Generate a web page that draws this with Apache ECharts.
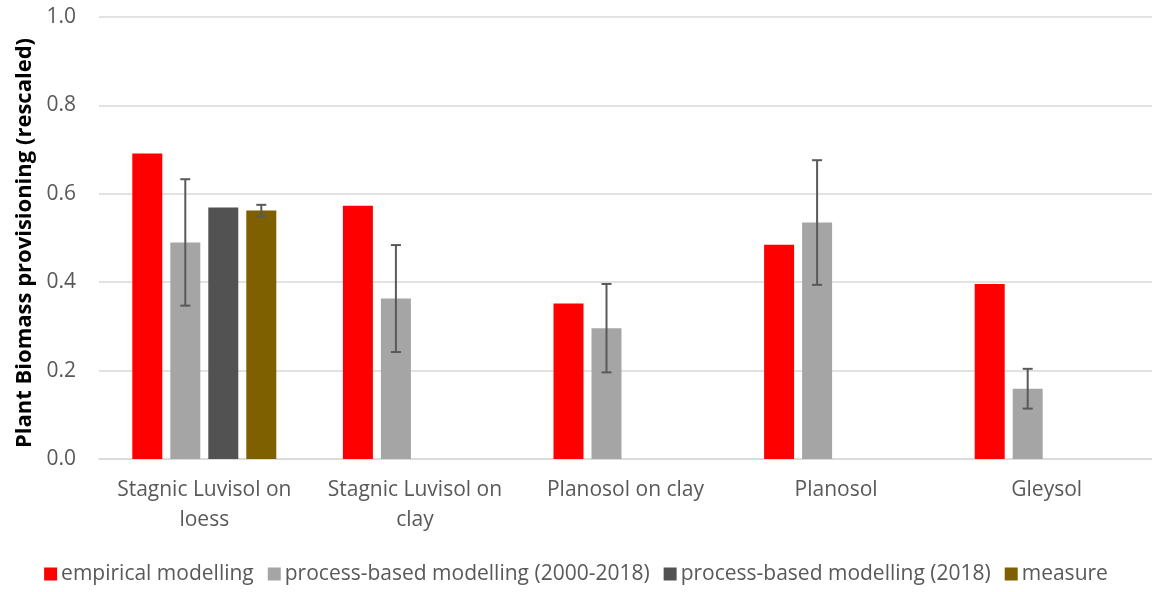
<!DOCTYPE html>
<html><head><meta charset="utf-8">
<script src="https://cdn.jsdelivr.net/npm/echarts@6/dist/echarts.min.js"></script>
<style>html,body{margin:0;padding:0;background:#fff}#c{width:1152px;height:592px}</style>
</head><body><div id="c"></div>
<script>
const categories = ["Stagnic Luvisol on\nloess", "Stagnic Luvisol on\nclay", "Planosol on clay", "Planosol", "Gleysol"];
const seriesNames = ["empirical modelling", "process-based modelling (2000-2018)", "process-based modelling (2018)", "measure"];
const empirical = [0.691, 0.573, 0.352, 0.485, 0.396];
const processAll = [0.490, 0.363, 0.296, 0.535, 0.159];
const processAllErr = [0.143, 0.121, 0.100, 0.141, 0.045];
const process2018 = [0.569, null, null, null, null];
const measure = [0.562, null, null, null, null];
const measureErr = [0.013, null, null, null, null];
const yTicks = [0, 0.2, 0.4, 0.6, 0.8, 1.0];

const colors = ["#FF0000", "#A5A5A5", "#525252", "#7F6000"];
const values = [empirical, processAll, process2018, measure];
const errs = [null, processAllErr, null, measureErr];
const BAR_W = 30, GAP = 8;

function errSeries(idx) {
  const data = [];
  values[idx].forEach((v, i) => { if (v != null && errs[idx][i] != null) data.push([i, v - errs[idx][i], v + errs[idx][i]]); });
  const offset = (idx - 1.5) * (BAR_W + GAP);
  return {
    type: 'custom', name: seriesNames[idx] + ' err', silent: true, z: 10,
    data: data,
    renderItem: function (params, api) {
      const x = api.value(0), lo = api.value(1), hi = api.value(2);
      const pLo = api.coord([x, lo]), pHi = api.coord([x, hi]);
      const cx = pLo[0] + offset, cap = 5;
      const st = { stroke: '#595959', lineWidth: 2 };
      return { type: 'group', children: [
        { type: 'line', shape: { x1: cx, y1: pLo[1], x2: cx, y2: pHi[1] }, style: st },
        { type: 'line', shape: { x1: cx - cap, y1: pLo[1], x2: cx + cap, y2: pLo[1] }, style: st },
        { type: 'line', shape: { x1: cx - cap, y1: pHi[1], x2: cx + cap, y2: pHi[1] }, style: st }
      ]};
    }
  };
}

const series = values.map((arr, i) => ({
  type: 'bar', name: seriesNames[i], data: arr, barWidth: BAR_W, barGap: (GAP / BAR_W * 100) + '%',
  itemStyle: { color: colors[i] }
}));
series.push(errSeries(1), errSeries(3));

const chart = echarts.init(document.getElementById('c'));
const FONT = 'Open Sans';
chart.setOption({
  animation: false,
  textStyle: { fontFamily: FONT },
  grid: { left: 99, right: 0, top: 17, bottom: 133 },
  legend: {
    data: seriesNames, top: 555, left: 'center', itemWidth: 13, itemHeight: 13, itemGap: 14,
    icon: 'rect', textStyle: { color: '#595959', fontSize: 21, lineHeight: 28, fontFamily: FONT, padding: [0, 0, 0, -1] }
  },
  xAxis: {
    type: 'category', data: categories,
    axisLine: { lineStyle: { color: '#D9D9D9', width: 1.5 } },
    axisTick: { show: false },
    axisLabel: { color: '#595959', fontSize: 21, lineHeight: 30, margin: 16, interval: 0 }
  },
  yAxis: {
    type: 'value', min: 0, max: 1, interval: 0.2,
    name: 'Plant Biomass provisioning (rescaled)', nameLocation: 'middle', nameGap: 62,
    nameTextStyle: { color: '#000', fontSize: 22, fontWeight: 'bold', padding: [0, 10, 0, 0] },
    axisLabel: { color: '#595959', fontSize: 21, margin: 23, formatter: v => v.toFixed(1) },
    splitLine: { lineStyle: { color: '#D9D9D9', width: 1.5 } },
    axisLine: { show: false }, axisTick: { show: false }
  },
  series: series
});
</script></body></html>
